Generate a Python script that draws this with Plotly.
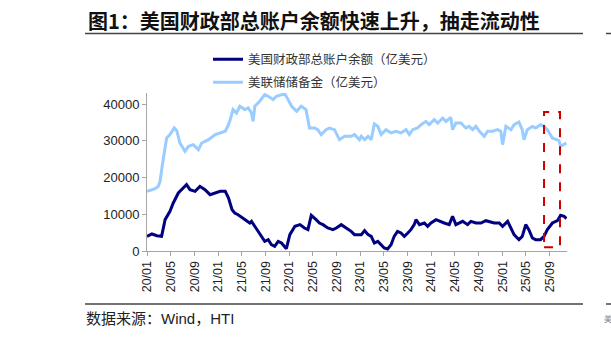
import plotly.graph_objects as go

# ---------------- data ----------------
tga_dates = [
    "2020-01-01", "2020-01-26", "2020-02-21", "2020-03-16", "2020-04-03", "2020-04-28", "2020-05-15",
    "2020-06-10", "2020-07-05", "2020-07-22", "2020-08-09", "2020-09-04", "2020-09-29", "2020-10-25",
    "2020-11-20", "2020-12-16", "2021-01-11", "2021-02-06", "2021-02-23", "2021-03-13", "2021-03-27",
    "2021-04-13", "2021-05-17", "2021-06-12", "2021-06-21", "2021-07-08", "2021-08-02", "2021-08-28",
    "2021-09-15", "2021-10-01", "2021-10-18", "2021-11-05", "2021-11-22", "2021-12-09", "2021-12-17",
    "2022-01-04", "2022-01-30", "2022-02-25", "2022-03-20", "2022-04-07", "2022-04-24", "2022-05-19",
    "2022-06-05", "2022-06-23", "2022-07-18", "2022-08-13", "2022-08-31", "2022-09-25", "2022-10-20",
    "2022-11-15", "2022-12-02", "2022-12-28", "2023-01-06", "2023-01-23", "2023-02-10", "2023-02-26",
    "2023-03-14", "2023-04-01", "2023-04-18", "2023-05-04", "2023-05-21", "2023-06-08", "2023-06-24",
    "2023-07-11", "2023-07-29", "2023-08-15", "2023-09-02", "2023-09-18", "2023-10-05", "2023-10-14",
    "2023-11-01", "2023-11-26", "2023-12-13", "2023-12-30", "2024-01-25", "2024-02-11", "2024-03-07",
    "2024-04-02", "2024-04-19", "2024-05-06", "2024-05-23", "2024-06-10", "2024-07-05", "2024-07-22",
    "2024-08-17", "2024-09-12", "2024-10-07", "2024-10-24", "2024-11-19", "2024-12-15", "2025-01-01",
    "2025-01-27", "2025-02-13", "2025-03-01", "2025-03-26", "2025-04-12", "2025-04-30", "2025-05-16",
    "2025-06-03", "2025-06-20", "2025-07-15", "2025-08-02", "2025-08-19", "2025-09-14", "2025-10-10",
    "2025-10-26", "2025-11-13", "2025-11-25",
]
tga_values = [
    3990, 4630, 4170, 3990, 8530, 10800, 13070,
    15790, 17150, 18060, 16690, 16240, 17600, 16690,
    15330, 15790, 16240, 16240, 14430, 11250, 10350,
    9890, 8530, 7620, 8070, 6710, 4450, 2630,
    3080, 1720, 1270, 2630, 2180, 1000, 640,
    4450, 6710, 7170, 6260, 5810, 9710, 8530,
    7620, 7170, 6260, 5810, 6260, 7170, 6260,
    5350, 4450, 4450, 4450, 5540, 4450, 3990,
    2180, 2630, 1720, 820, 540, 1720, 3990,
    5350, 4900, 3990, 4900, 5810, 7170, 8530,
    7170, 7620, 6710, 7620, 8530, 8070, 7620,
    7170, 9440, 7170, 7620, 8070, 7170, 8070,
    7620, 7620, 8250, 8070, 7620, 7620, 6710,
    8070, 6260, 4450, 3080, 3990, 7170, 5810,
    3540, 3080, 3080, 3990, 5810, 7620, 8250,
    9710, 9440, 8800,
]

res_dates = [
    "2020-01-01", "2020-01-26", "2020-02-12", "2020-02-28", "2020-03-08", "2020-03-20", "2020-03-30",
    "2020-04-11", "2020-04-28", "2020-05-20", "2020-06-02", "2020-06-18", "2020-07-14", "2020-08-01",
    "2020-08-26", "2020-09-21", "2020-10-08", "2020-11-12", "2020-12-16", "2021-01-11", "2021-02-06",
    "2021-02-19", "2021-03-01", "2021-03-18", "2021-04-05", "2021-04-22", "2021-05-17", "2021-06-04",
    "2021-06-21", "2021-06-29", "2021-07-08", "2021-08-02", "2021-08-28", "2021-09-23", "2021-10-10",
    "2021-10-27", "2021-11-22", "2021-12-09", "2021-12-26", "2022-01-13", "2022-02-08", "2022-03-03",
    "2022-03-28", "2022-04-15", "2022-05-10", "2022-05-27", "2022-06-14", "2022-07-09", "2022-07-26",
    "2022-08-21", "2022-09-16", "2022-10-12", "2022-11-15", "2022-12-02", "2022-12-28", "2023-01-06",
    "2023-01-23", "2023-02-10", "2023-02-26", "2023-03-14", "2023-04-01", "2023-04-18", "2023-05-13",
    "2023-06-08", "2023-07-03", "2023-07-29", "2023-08-24", "2023-09-10", "2023-09-27", "2023-10-22",
    "2023-11-09", "2023-12-04", "2023-12-21", "2024-01-16", "2024-02-03", "2024-02-28", "2024-03-16",
    "2024-04-10", "2024-04-19", "2024-05-06", "2024-06-01", "2024-06-26", "2024-07-13", "2024-07-31",
    "2024-08-17", "2024-09-04", "2024-09-29", "2024-10-16", "2024-11-11", "2024-12-06", "2024-12-23",
    "2025-01-01", "2025-01-18", "2025-02-13", "2025-03-01", "2025-03-26", "2025-04-12", "2025-04-21",
    "2025-05-08", "2025-06-03", "2025-06-20", "2025-07-15", "2025-08-02", "2025-08-19", "2025-09-14",
    "2025-10-01", "2025-10-18", "2025-10-26", "2025-11-13", "2025-11-25",
]
res_values = [
    16240, 16680, 16960, 17600, 18960, 23480, 27120,
    30770, 31670, 33470, 32750, 29390, 27120, 28480,
    28940, 27580, 29390, 30300, 31670, 32130, 32580,
    33940, 35300, 38480, 37570, 39390, 38480, 38930,
    37570, 35300, 39390, 40750, 42560, 41840, 41200,
    42110, 42560, 42800, 41200, 39390, 38030, 39390,
    38480, 33470, 33470, 33020, 31670, 33020, 33470,
    33020, 30300, 31210, 31210, 31670, 30300, 31210,
    30300, 31210, 30300, 34560, 33920, 31670, 33020,
    32130, 32580, 32130, 33020, 31670, 33020, 33470,
    34380, 35280, 34380, 35740, 34830, 36190, 35280,
    36370, 33020, 34830, 34830, 33470, 33920, 33020,
    33920, 32580, 31210, 32580, 32580, 33020, 32580,
    28940, 33920, 33020, 34380, 35100, 33020, 30300,
    33020, 33920, 33470, 34380, 33920, 33020, 30760,
    30300, 30030, 28480, 29120, 29390,
]

tick_vals = ["2020-01-01", "2020-05-01", "2020-09-01", "2021-01-01", "2021-05-01", "2021-09-01",
             "2022-01-01", "2022-05-01", "2022-09-01", "2023-01-01", "2023-05-01", "2023-09-01",
             "2024-01-01", "2024-05-01", "2024-09-01", "2025-01-01", "2025-05-01", "2025-09-01"]
tick_text = ["20/01", "20/05", "20/09", "21/01", "21/05", "21/09", "22/01", "22/05", "22/09",
             "23/01", "23/05", "23/09", "24/01", "24/05", "24/09", "25/01", "25/05", "25/09"]

box_x = ["2025-08-02", "2025-10-23"]
box_y = [1000, 37800]

title_text = "图1：美国财政部总账户余额快速上升，抽走流动性"
source_text = "数据来源：Wind，HTI"
name_tga = "美国财政部总账户余额（亿美元）"
name_res = "美联储储备金（亿美元）"

# ---------------- figure ----------------
W, H = 611, 338
L, R, T, B = 147, 44, 93, 87
pw, ph = W - L - R, H - T - B


def px(xp):
    return (xp - L) / pw


def py(yp):
    return (H - B - yp) / ph


fig = go.Figure()
fig.add_trace(go.Scatter(x=tga_dates, y=tga_values, mode="lines", name=name_tga, showlegend=True,
                         line=dict(color="#000080", width=3), legend="legend"))
fig.add_trace(go.Scatter(x=res_dates, y=res_values, mode="lines", name=name_res, showlegend=True,
                         line=dict(color="#99CCFF", width=3), legend="legend2"))

fig.add_shape(type="rect", xref="x", yref="y", x0=box_x[0], x1=box_x[1], y0=box_y[0], y1=box_y[1],
              line=dict(color="#CC0000", width=2, dash="dash"), fillcolor="rgba(0,0,0,0)")

# decorative rules
for yy in (33.5, 304):
    fig.add_shape(type="line", xref="paper", yref="paper", x0=px(85), x1=px(583), y0=py(yy), y1=py(yy),
                  line=dict(color="#444444", width=1.5))
    fig.add_shape(type="line", xref="paper", yref="paper", x0=px(606), x1=px(612), y0=py(yy), y1=py(yy),
                  line=dict(color="#444444", width=1.5))

fig.add_annotation(text="<b>" + title_text + "</b>", xref="paper", yref="paper", x=px(86), y=py(20),
                   xanchor="left", yanchor="middle", showarrow=False,
                   font=dict(family="Noto Sans CJK SC", size=20, color="#111111"))
fig.add_annotation(text=source_text, xref="paper", yref="paper", x=px(84), y=py(318),
                   xanchor="left", yanchor="middle", showarrow=False,
                   font=dict(family="Liberation Sans, Noto Sans CJK SC", size=15, color="#222222"))
fig.add_annotation(text="美", xref="paper", yref="paper", x=px(602), y=py(318),
                   xanchor="left", yanchor="middle", showarrow=False,
                   font=dict(family="Noto Sans CJK SC", size=8, color="#888888"))

leg_font = dict(family="Noto Sans CJK SC", size=12.5, color="#333333")
fig.update_layout(
    width=W, height=H,
    showlegend=True,
    margin=dict(l=L, r=R, t=T, b=B),
    paper_bgcolor="white", plot_bgcolor="white",
    legend=dict(x=px(208), y=py(44.5), xanchor="left", yanchor="top", font=leg_font,
                bgcolor="rgba(0,0,0,0)", borderwidth=0, visible=True),
    legend2=dict(x=px(208), y=py(67.5), xanchor="left", yanchor="top", font=leg_font,
                 bgcolor="rgba(0,0,0,0)", borderwidth=0, visible=True),
    xaxis=dict(type="date", range=["2020-01-01", "2025-11-28"], tickvals=tick_vals, ticktext=tick_text,
               tickangle=-90, showgrid=False, zeroline=False, showline=True, linecolor="#A6A6A6",
               linewidth=1, ticks="outside", ticklen=4, tickcolor="#A6A6A6",
               tickfont=dict(family="Liberation Sans", size=12.5, color="#222222")),
    yaxis=dict(range=[0, 43000], tickvals=[0, 10000, 20000, 30000, 40000],
               ticktext=["0", "10000", "20000", "30000", "40000"],
               showgrid=False, zeroline=False, showline=True, linecolor="#A6A6A6", linewidth=1,
               ticks="outside", ticklen=4, tickcolor="#A6A6A6",
               tickfont=dict(family="Liberation Sans", size=13, color="#222222")),
)

fig.write_html("out.html")
